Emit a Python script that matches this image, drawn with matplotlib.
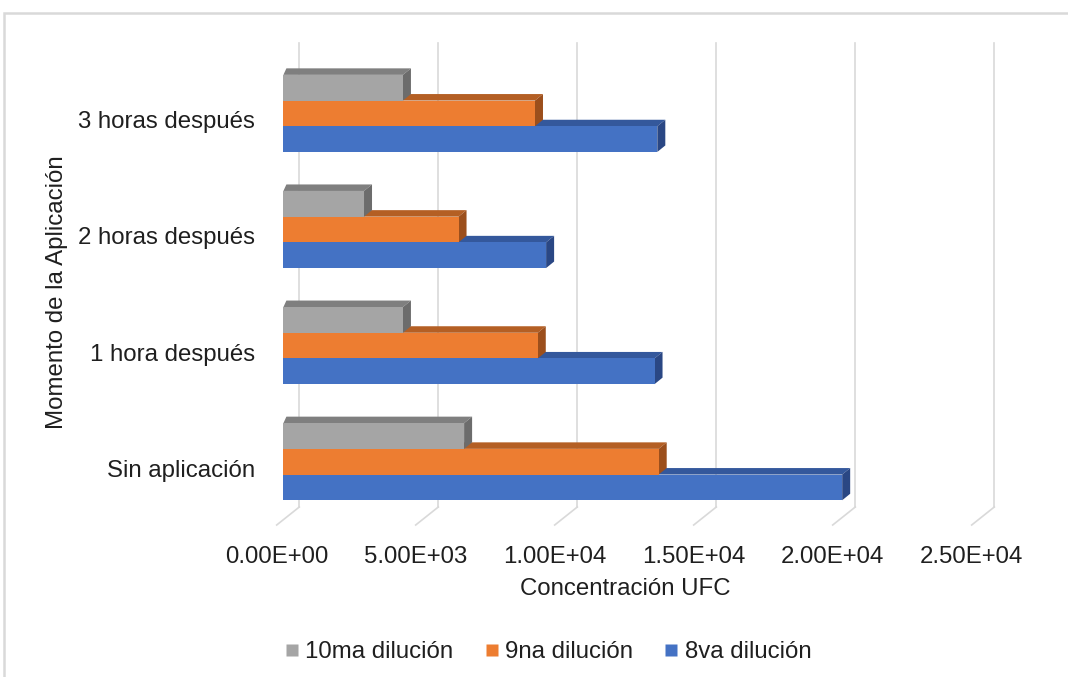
import matplotlib
matplotlib.use("Agg")
import matplotlib.pyplot as plt
from matplotlib.patches import Polygon, Rectangle
from matplotlib.lines import Line2D
from matplotlib.transforms import ScaledTranslation

# Datos: concentración UFC por momento de aplicación
momentos = ["Sin aplicación", "1 hora después", "2 horas después", "3 horas después"]
series = ["10ma dilución", "9na dilución", "8va dilución"]
dil_10 = [6500, 4300, 2900, 4300]
dil_9 = [13500, 9150, 6300, 9050]
dil_8 = [20100, 13350, 9450, 13450]
ticks_x = [0, 5000, 10000, 15000, 20000, 25000]
ticks_lbl = ["0.00E+00", "5.00E+03", "1.00E+04", "1.50E+04", "2.00E+04", "2.50E+04"]

# colores: cara frontal, cara superior, cara lateral
colores = {
    "10ma dilución": ("#a5a5a5", "#7f7f7f", "#6c6c6c"),
    "9na dilución": ("#ed7d31", "#b45f24", "#9c4f1c"),
    "8va dilución": ("#4472c4", "#34589c", "#2a4784"),
}

W, H, DPI = 1068, 677, 100
plt.rcParams["font.family"] = ["Liberation Sans", "DejaVu Sans"]
FS = 17.3
TXT = "#1f1f1f"

fig = plt.figure(figsize=(W / DPI, H / DPI), dpi=DPI)

# caja del eje en píxeles y escalas
L, R, T, B = 262, 1020, 40, 540
x0_px, px_per_5k = 283.4, 139.0
c0_px, px_per_cat = 461.7, 116.1
ax = fig.add_axes([L / W, 1 - B / H, (R - L) / W, (B - T) / H])
ax.set_xlim((L - x0_px) / px_per_5k * 5000, (R - x0_px) / px_per_5k * 5000)
ax.set_ylim((c0_px - B) / px_per_cat, (c0_px - T) / px_per_cat)


def dx(px):
    return px * 5000 / px_per_5k


def dy(px):
    return px / px_per_cat


# pared del fondo y piso (rejilla en perspectiva)
y_pared = (c0_px - 507) / px_per_cat
y_top = (c0_px - 43) / px_per_cat
y_frente = (c0_px - 525) / px_per_cat
for t in ticks_x:
    ax.plot([t + dx(15.9), t + dx(15.9)], [y_pared, y_top], color="#d9d9d9", lw=1.2, zorder=1)
    ax.plot([t + dx(15.9), t + dx(-6.7)], [y_pared, y_frente], color="#d9d9d9", lw=1.2, zorder=1)

# barras con efecto 3D
alto = 25.7 / px_per_cat
prof_x, prof_y = dx(8), dy(6.5)
valores = {"10ma dilución": dil_10, "9na dilución": dil_9, "8va dilución": dil_8}
desplaz = {"10ma dilución": alto, "9na dilución": 0.0, "8va dilución": -alto}
z = 2
for s in ["8va dilución", "9na dilución", "10ma dilución"]:
    frente, sup, lat = colores[s]
    for i, v in enumerate(valores[s]):
        yc = i + desplaz[s]
        yb, yt = yc - alto / 2, yc + alto / 2
        ax.add_patch(Polygon([(0, yt), (v, yt), (v + prof_x, yt + prof_y), (dx(3), yt + prof_y)],
                             closed=True, facecolor=sup, edgecolor="none", zorder=z))
        ax.add_patch(Polygon([(v, yb), (v, yt), (v + prof_x, yt + prof_y), (v + prof_x, yb + prof_y)],
                             closed=True, facecolor=lat, edgecolor="none", zorder=z))
        ax.barh(yc, v, height=alto, color=frente, edgecolor="none", zorder=z + 0.5)
    z += 1

for sp in ax.spines.values():
    sp.set_visible(False)

ax.set_xticks(ticks_x)
ax.set_xticklabels(ticks_lbl, fontsize=FS, color=TXT)
ax.set_yticks(range(len(momentos)))
ax.set_yticklabels(momentos, fontsize=FS, color=TXT)
ax.tick_params(axis="both", length=0)
ax.tick_params(axis="x", pad=4)
ax.tick_params(axis="y", pad=5)
for lbl in ax.get_xticklabels():
    lbl.set_transform(lbl.get_transform() + ScaledTranslation(-6.7 / DPI, 0, fig.dpi_scale_trans))
for lbl in ax.get_yticklabels():
    lbl.set_transform(lbl.get_transform() + ScaledTranslation(0, -6.5 / DPI, fig.dpi_scale_trans))

fig.text(625 / W, 1 - 589 / H, "Concentración UFC", fontsize=FS, ha="center", va="center", color=TXT)
fig.text(57 / W, 1 - 292 / H, "Momento de la Aplicación", fontsize=FS, ha="center", va="center",
         rotation=90, color=TXT)

handles = [Line2D([], [], marker="s", linestyle="none", markersize=8,
                  markerfacecolor=colores[s][0], markeredgecolor="none") for s in series]
fig.legend(handles, series, loc="center", bbox_to_anchor=(548 / W, 1 - 652 / H), ncol=3,
           frameon=False, fontsize=FS, handlelength=0.6, handletextpad=0.25, columnspacing=1.3,
           labelcolor=TXT)

# marco del área del gráfico
fig.add_artist(Rectangle((4 / W, -0.05), 1.1, 1 - 13 / H + 0.05, transform=fig.transFigure,
                         facecolor="none", edgecolor="#d9d9d9", lw=1.8))

fig.savefig("out.png", dpi=DPI)
